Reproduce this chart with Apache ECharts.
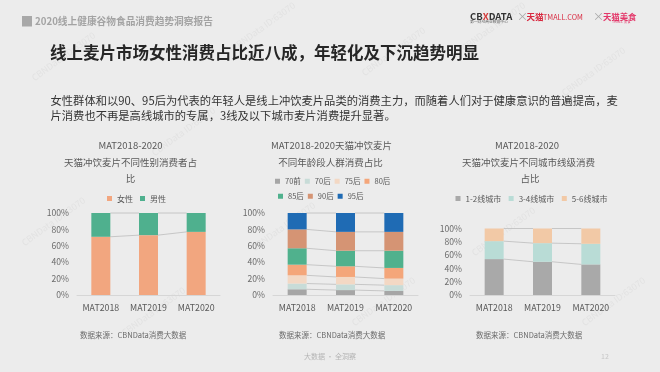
<!DOCTYPE html>
<html>
<head>
<meta charset="utf-8">
<script src="https://cdn.jsdelivr.net/npm/echarts@6/dist/echarts.min.js"></script>
<style>
html,body{margin:0;padding:0;background:#ECECEC;}
#c{width:660px;height:372px;}
</style>
</head>
<body>
<div id="c"></div>
<script>
// ---- data ----
const categories = ['MAT2018', 'MAT2019', 'MAT2020'];
const yTicks = [0, 20, 40, 60, 80, 100];

const genderNames = ['女性', '男性'];
const female = [71, 73, 77];
const male = [29, 27, 23];

const ageNames = ['70前', '70后', '75后', '80后', '85后', '90后', '95后'];
const age70pre = [7, 6, 5];
const age70 = [7, 7, 7];
const age75 = [10, 9, 8];
const age80 = [13, 13, 13];
const age85 = [20, 19, 21];
const age90 = [23, 23, 23];
const age95 = [20, 23, 23];

const cityNames = ['1-2线城市', '3-4线城市', '5-6线城市'];
const tier12 = [54, 50, 46];
const tier34 = [27, 28, 31];
const tier56 = [19, 22, 23];

// ---- style ----
const FONT = '"Noto Sans CJK SC", "Noto Sans", sans-serif';
const BW = 19;
const genderColors = ['#F2A67F', '#4FB08E'];
const ageColors = ['#A6A6A6', '#C8DCD8', '#F3D8C4', '#F4A67A', '#50B18D', '#D59474', '#1F6BB4'];
const cityColors = ['#A9A9A9', '#B9DCD6', '#F2C9A6'];

function cumulative(list) {
  const out = [];
  let acc = categories.map(() => 0);
  list.forEach(arr => {
    acc = acc.map((v, i) => v + arr[i]);
    out.push(acc.slice());
  });
  return out;
}

const genderSeries = [female, male];
const ageSeries = [age70pre, age70, age75, age80, age85, age90, age95];
const citySeries = [tier12, tier34, tier56];

const grids = [
  { left: 77, top: 213, width: 143, height: 82 },
  { left: 273, top: 213, width: 145, height: 82 },
  { left: 470, top: 228.5, width: 145, height: 66.5 }
];

const xAxes = grids.map((g, i) => ({
  type: 'category', gridIndex: i, data: categories,
  axisLine: { lineStyle: { color: '#D6D6D6', width: 1 } },
  axisTick: { show: false },
  axisLabel: { interval: 0, hideOverlap: false, fontSize: 8.8, color: '#595959', margin: 8, fontFamily: FONT }
}));
const yAxes = grids.map((g, i) => ({
  type: 'value', gridIndex: i, min: yTicks[0], max: yTicks[yTicks.length - 1],
  interval: yTicks[1] - yTicks[0],
  splitLine: { show: false }, axisLine: { show: false }, axisTick: { show: false },
  axisLabel: { fontSize: 8.6, color: '#6B6B6B', margin: 8, formatter: '{value}%', fontFamily: FONT }
}));

const series = [];
function addGroup(idx, names, list, colors) {
  const cum = cumulative(list);
  series.push({
    type: 'custom', xAxisIndex: idx, yAxisIndex: idx, z: 1, silent: true,
    data: categories.map((c, i) => [i, 0]),
    encode: { x: 0, y: 1 },
    renderItem: function (params, api) {
      const i = api.value(0);
      if (i >= categories.length - 1) return null;
      const children = cum.map(arr => {
        const p1 = api.coord([i, arr[i]]);
        const p2 = api.coord([i + 1, arr[i + 1]]);
        return {
          type: 'line',
          shape: { x1: p1[0] + BW / 2, y1: p1[1], x2: p2[0] - BW / 2, y2: p2[1] },
          style: { stroke: '#BDBDBD', lineWidth: 0.8 }
        };
      });
      return { type: 'group', children: children };
    }
  });
  list.forEach((arr, k) => {
    series.push({
      name: names[k], type: 'bar', stack: 's' + idx, xAxisIndex: idx, yAxisIndex: idx,
      barWidth: BW, z: 2, data: arr, itemStyle: { color: colors[k] }
    });
  });
}
addGroup(0, genderNames, genderSeries, genderColors);
addGroup(1, ageNames, ageSeries, ageColors);
addGroup(2, cityNames, citySeries, cityColors);

function lg(data, left, top, fs, gap) {
  return {
    data: data, left: left, top: top, padding: 0, icon: 'rect', orient: 'horizontal',
    itemWidth: 5, itemHeight: 5, itemGap: gap, itemTextGap: 2, selectedMode: false,
    textStyle: { fontSize: fs, color: '#595959', fontFamily: FONT }
  };
}

function txt(text, x, y, size, color, weight, align) {
  return {
    type: 'text', x: x, y: y, silent: true,
    style: {
      text: text, fill: color, textAlign: align || 'left', textVerticalAlign: 'middle',
      font: (weight || 'normal') + ' ' + size + 'px ' + FONT
    }
  };
}

const graphics = [];
// watermarks
const wm = [[30, 75], [230, 45], [360, 70], [460, 45], [560, 90], [20, 240], [250, 245], [470, 250], [120, 330], [350, 320], [580, 320], [150, 150]];
wm.forEach(p => {
  graphics.push({
    type: 'text', x: p[0], y: p[1], rotation: Math.PI / 5, silent: true,
    style: { text: 'CBNData ID:63070', fill: 'rgba(160,160,160,0.13)', font: '9px ' + FONT }
  });
});
// header
graphics.push({ type: 'rect', shape: { x: 22, y: 16, width: 10, height: 10.5 }, style: { fill: '#A8A8A8' } });
graphics.push(txt('2020线上健康谷物食品消费趋势洞察报告', 35, 21.5, 9.7, '#A3A3A3', 'bold'));
// logos
graphics.push({
  type: 'text', x: 470, y: 16.5, silent: true,
  style: {
    text: '{a|CB}{b|X}{a|DATA}', textVerticalAlign: 'middle',
    rich: {
      a: { fontSize: 9.5, fontWeight: 'bold', fill: '#333', fontFamily: FONT },
      b: { fontSize: 9.5, fontWeight: 'bold', fill: '#D23A3A', fontFamily: FONT }
    }
  }
});
graphics.push(txt('第一财经商业数据中心', 470, 21.5, 3.8, '#666'));
graphics.push(txt('×', 517, 17, 11, '#A8A8A8'));
graphics.push(txt('天猫', 526.5, 17, 8.5, '#D8283F', 'bold'));
graphics.push(txt('TMALL.COM', 543, 17.5, 7.2, '#D8283F'));
graphics.push(txt('×', 593, 17, 11, '#A8A8A8'));
graphics.push(txt('天猫美食', 603, 16.5, 8.4, '#E3386A', 'bold'));
graphics.push(txt('TMALL 美食', 612, 22, 3.5, '#E3386A'));
// title
graphics.push(txt('线上麦片市场女性消费占比近八成，年轻化及下沉趋势明显', 50, 52.5, 16.5, '#262626', 'bold'));
// paragraph
graphics.push(txt('女性群体和以90、95后为代表的年轻人是线上冲饮麦片品类的消费主力，而随着人们对于健康意识的普遍提高，麦', 50.5, 100.5, 11.3, '#333333'));
graphics.push(txt('片消费也不再是高线城市的专属，3线及以下城市麦片消费提升显著。', 50.5, 115.5, 11.3, '#333333'));
// chart titles
const tc = '#595959', ts = 9.5;
graphics.push(txt('MAT2018-2020', 130.5, 145, ts, tc, 'normal', 'center'));
graphics.push(txt('天猫冲饮麦片不同性别消费者占', 130.5, 162, ts, tc, 'normal', 'center'));
graphics.push(txt('比', 130.5, 178.3, ts, tc, 'normal', 'center'));
graphics.push(txt('MAT2018-2020天猫冲饮麦片', 331.5, 145.5, ts, tc, 'normal', 'center'));
graphics.push(txt('不同年龄段人群消费占比', 330.5, 162, ts, tc, 'normal', 'center'));
graphics.push(txt('MAT2018-2020', 527, 145, ts, tc, 'normal', 'center'));
graphics.push(txt('天猫冲饮麦片不同城市线级消费', 528.5, 162, ts, tc, 'normal', 'center'));
graphics.push(txt('占比', 530, 178, ts, tc, 'normal', 'center'));
// sources
graphics.push(txt('数据来源：CBNData消费大数据', 80, 335, 7.5, '#6B6B6B'));
graphics.push(txt('数据来源：CBNData消费大数据', 279, 335, 7.5, '#6B6B6B'));
graphics.push(txt('数据来源：CBNData消费大数据', 476, 335, 7.5, '#6B6B6B'));
// footer
graphics.push(txt('大数据 · 全洞察', 330, 356, 7, '#B5B5B5', 'normal', 'center'));
graphics.push(txt('12', 605, 356, 7, '#C6C6C6', 'normal', 'center'));

const chart = echarts.init(document.getElementById('c'), null, { renderer: 'canvas' });
chart.setOption({
  backgroundColor: '#ECECEC',
  animation: false,
  textStyle: { fontFamily: FONT },
  grid: grids,
  xAxis: xAxes,
  yAxis: yAxes,
  legend: [
    lg(genderNames, 107, 194.5, 8, 7),
    lg(ageNames.slice(0, 4), 275, 177.5, 7.5, 4),
    lg(ageNames.slice(4), 278, 192.5, 7.5, 4),
    lg(cityNames, 455.5, 194.5, 8, 7.5)
  ],
  graphic: graphics,
  series: series
});
</script>
</body>
</html>
